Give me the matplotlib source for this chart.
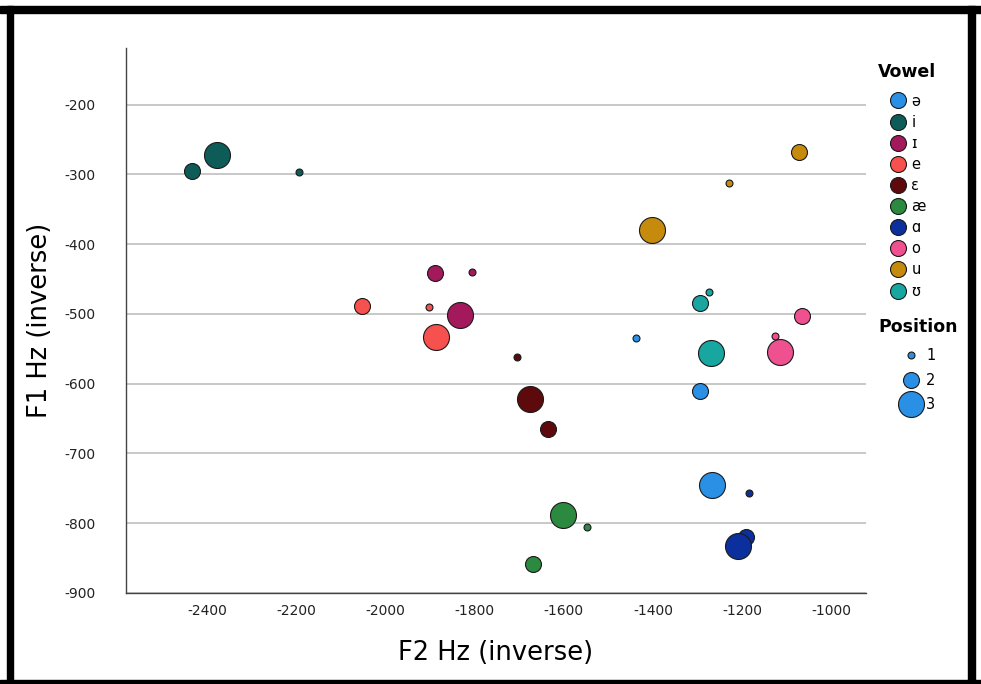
import numpy as np
import matplotlib
matplotlib.use('Agg')
from matplotlib import pyplot as plt
from matplotlib.lines import Line2D
from matplotlib.patches import Rectangle
from matplotlib.ticker import FuncFormatter

# vowel categories and colours
vowels = ['ə', 'i', 'ɪ', 'e', 'ɛ', 'æ', 'ɑ', 'o', 'u', 'ʊ']
colors = ['#2a90e6', '#0e5c58', '#a3195b', '#f7514f', '#5e0a0c',
          '#2b8a3f', '#0b2f9c', '#ee5090', '#c68b0c', '#18a6a1']

# F2 / F1 (inverse) for positions 1, 2, 3 of each vowel
f2 = {
  'ə': [-1437, -1294, -1267],
  'i': [-2193, -2434, -2377],
  'ɪ': [-1806, -1889, -1832],
  'e': [-1902, -2052, -1886],
  'ɛ': [-1705, -1635, -1676],
  'æ': [-1547, -1670, -1602],
  'ɑ': [-1184, -1192, -1210],
  'o': [-1126, -1065, -1115],
  'u': [-1230, -1073, -1403],
  'ʊ': [-1274, -1295, -1269],
}
f1 = {
  'ə': [-535, -610, -745],
  'i': [-297, -295, -273],
  'ɪ': [-440, -441, -502],
  'e': [-490, -489, -533],
  'ɛ': [-562, -665, -622],
  'æ': [-805, -859, -788],
  'ɑ': [-757, -820, -833],
  'o': [-531, -503, -554],
  'u': [-312, -268, -380],
  'ʊ': [-468, -484, -556],
}
positions = [1, 2, 3]
pos_sizes = [25, 132, 350]

W, H = 981.0, 684.0
fig = plt.figure(figsize=(9.81, 6.84), dpi=100)
ax = fig.add_axes([126 / W, 1 - 593 / H, 740 / W, 545 / H])

for v, c in zip(vowels, colors):
  for i, p in enumerate(positions):
    ax.scatter(f2[v][i], f1[v][i], s=pos_sizes[i], color=c,
               edgecolor='#1a1a1a', linewidth=0.8, zorder=3)

ax.set_xlim(-2582, -922)
ax.set_ylim(-900, -119)
ax.set_xticks(np.arange(-2400, -999, 200))
ax.set_yticks(np.arange(-900, -199, 100))
fmt = FuncFormatter(lambda v, pos: '%d' % v)
ax.xaxis.set_major_formatter(fmt)
ax.yaxis.set_major_formatter(fmt)
ax.tick_params(length=0, labelsize=10, colors='#222222')
ax.tick_params(axis='x', pad=8)
ax.tick_params(axis='y', pad=22)
ax.grid(True, axis='y', color='#c8c8c8', linewidth=1.4)
ax.set_axisbelow(True)
for s in ['top', 'right']:
  ax.spines[s].set_visible(False)
for s in ['left', 'bottom']:
  ax.spines[s].set_color('#444444')
  ax.spines[s].set_linewidth(1.0)

ax.set_xlabel('F2 Hz (inverse)', fontsize=18.5, labelpad=16)
ax.set_ylabel('F1 Hz (inverse)', fontsize=18.5, labelpad=8)

# legends (titles drawn as separate text)
fig.text(878 / W, 1 - 72 / H, 'Vowel', fontsize=12.5, fontweight='bold',
         ha='left', va='center')
fig.text(878 / W, 1 - 327 / H, 'Position', fontsize=12.5, fontweight='bold',
         ha='left', va='center')

vh = [Line2D([], [], marker='o', linestyle='', markersize=11.5,
             markerfacecolor=c, markeredgecolor='#1a1a1a',
             markeredgewidth=0.8) for c in colors]
leg1 = ax.legend(vh, vowels, loc='upper left',
                 bbox_to_anchor=((888 - 126) / 740, (593 - 93.5) / 545),
                 frameon=False, fontsize=10.5, labelspacing=0.42,
                 handletextpad=0.2, handlelength=1.4, borderaxespad=0,
                 borderpad=0)
ax.add_artist(leg1)

ph = [Line2D([], [], marker='o', linestyle='', markersize=np.sqrt(s),
             markerfacecolor=colors[0], markeredgecolor='#1a1a1a',
             markeredgewidth=0.8) for s in pos_sizes]
leg2 = ax.legend(ph, [str(p) for p in positions], loc='upper left',
                 bbox_to_anchor=((898 - 126) / 740, (593 - 348.5) / 545),
                 frameon=False, fontsize=10.5, labelspacing=0.65,
                 handletextpad=0.15, handlelength=1.78, borderaxespad=0,
                 borderpad=0)

# black frame round the picture (pixel boxes, y measured from the bottom)
for x0, y0, w, h in [(7, 0, 6, 678), (0, 671, 981, 7), (0, 0, 981, 4), (968, 0, 7, 678)]:
  fig.patches.append(Rectangle((x0 / W, y0 / H), w / W, h / H,
                               transform=fig.transFigure, color='black',
                               zorder=10))

plt.savefig('out.png', dpi=100)
